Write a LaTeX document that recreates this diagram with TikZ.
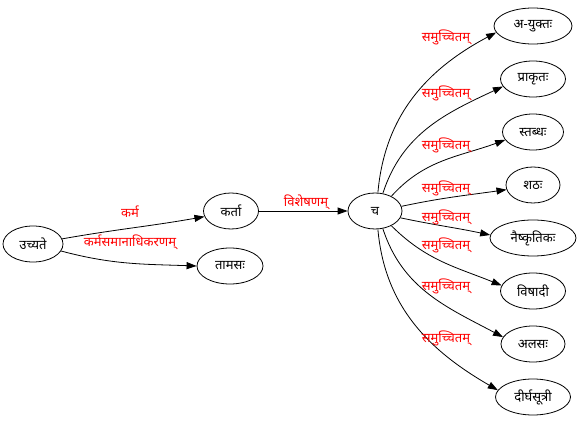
\documentclass[tikz,border=0pt]{standalone}
\usepackage{fontspec}
\newfontfamily\deva[Script=Devanagari]{Noto Sans}
\usetikzlibrary{shapes.geometric,arrows.meta}
\begin{document}
\begin{tikzpicture}[x=1pt,y=-1pt,
  nd/.style={ellipse,draw,line width=0.8pt,inner sep=0pt,minimum height=36pt,font=\deva\fontsize{13}{15}\selectfont},
  lbl/.style={text=red,inner sep=0pt,font=\deva\fontsize{13}{15}\selectfont},
  edg/.style={draw,line width=0.8pt,-{Triangle[length=10pt,width=7pt]}}]
\useasboundingbox[fill=white] (0,0) rectangle (579,422);
% nodes
\node[nd,minimum width=60pt] (u) at (33,244) {उच्यते};
\node[nd,minimum width=55pt] (k) at (231,211) {कर्ता};
\node[nd,minimum width=66pt] (t) at (230,266) {तामसः};
\node[nd,minimum width=54pt] (c) at (375,211) {च};
\node[nd,minimum width=78pt] (a1) at (533,26) {अ-युक्तः};
\node[nd,minimum width=65pt] (a2) at (533,79) {प्राकृतः};
\node[nd,minimum width=61pt] (a3) at (533,132) {स्तब्धः};
\node[nd,minimum width=54pt] (a4) at (533,185) {शठः};
\node[nd,minimum width=86pt] (a5) at (533,238) {नैष्कृतिकः};
\node[nd,minimum width=65pt] (a6) at (533,291) {विषादी};
\node[nd,minimum width=64pt] (a7) at (533,344) {अलसः};
\node[nd,minimum width=75pt] (a8) at (533,397) {दीर्घसूत्री};
% edges
\draw[edg] (u.10) to[out=10,in=190] (k.192);
\draw[edg] (u.-14) to[out=-15,in=178] (t.180);
\draw[edg] (k.east) -- (c.west);
\draw[edg] (c.81) to[out=85,in=208] (a1.190);
\draw[edg] (c.66) to[out=72,in=205] (a2.194);
\draw[edg] (c.42) to[out=48,in=200] (a3.196);
\draw[edg] (c.10) to[out=12,in=188] (a4.190);
\draw[edg] (c.-15) to[out=-12,in=168] (a5.176);
\draw[edg] (c.-42) to[out=-45,in=158] (a6.170);
\draw[edg] (c.-66) to[out=-72,in=152] (a7.167);
\draw[edg] (c.-81) to[out=-85,in=150] (a8.169);
% labels
\node[lbl] (l1) at (130,212) {कर्म};
\node[lbl] (l2) at (130,242) {कर्मसमानाधिकरणम्};
\node[lbl] (l3) at (306,202) {विशेषणम्};
\node[lbl] (s1) at (446,37) {समुच्चितम्};
\node[lbl] (s2) at (446,93) {समुच्चितम्};
\node[lbl] (s3) at (446,145) {समुच्चितम्};
\node[lbl] (s4) at (446,188) {समुच्चितम्};
\node[lbl] (s5) at (446,217) {समुच्चितम्};
\node[lbl] (s6) at (446,245) {समुच्चितम्};
\node[lbl] (s7) at (446,286) {समुच्चितम्};
\node[lbl] (s8) at (446,338) {समुच्चितम्};
\end{tikzpicture}
\end{document}
